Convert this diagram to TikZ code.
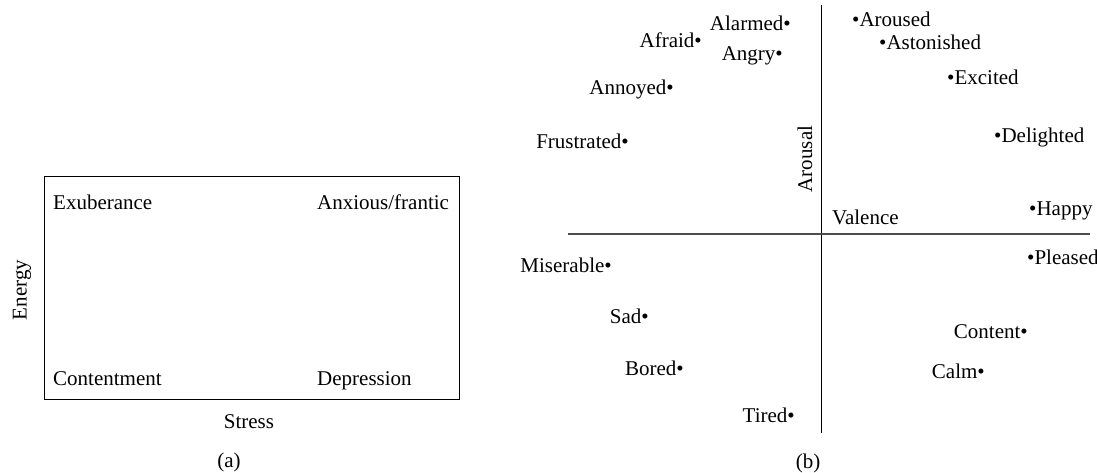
\documentclass[tikz,border=0pt]{standalone}
\usepackage{fontspec}
\setmainfont{Liberation Serif}
\usetikzlibrary{positioning}

\newcommand{\bul}{\textbullet}

\begin{document}
\begin{tikzpicture}[x=1pt, y=-1pt,
    every node/.style={font=\fontsize{21}{25}\selectfont, inner sep=0pt},
    dotleft/.style={anchor=base east},
    dotright/.style={anchor=base west}]
  \useasboundingbox (0,0) rectangle (1097,473);

  % (a) energy / stress
  \node[draw, line width=1pt, minimum width=415pt, minimum height=222pt] (box) at (251.5,288) {};
  \node[anchor=base west] (exub) at (53,209) {Exuberance};
  \node[anchor=base west] (anx) at (317,209) {Anxious/frantic};
  \node[anchor=base west] (contm) at (53,385) {Contentment};
  \node[anchor=base west] (depr) at (317,385) {Depression};
  \node[rotate=90] (energy) at (22,290) {Energy};
  \node[anchor=base] (stress) at (249,428) {Stress};
  \node (capa) at (229,462) {(a)};

  % (b) valence / arousal
  \coordinate (vtop) at (821,5);
  \coordinate (vbot) at (821,433);
  \coordinate (hleft) at (568,234);
  \coordinate (hright) at (1090,234);
  \draw[line width=1pt] (vtop) -- (vbot);
  \draw[line width=1.6pt, black!70] (hleft) -- (hright);
  \node[rotate=90] (arousal) at (805,159) {Arousal};
  \node[anchor=base west] (valence) at (832,224) {Valence};

  \node[dotleft] (alarmed) at (791,31) {Alarmed\bul};
  \node[dotleft] (afraid) at (702,48) {Afraid\bul};
  \node[dotleft] (angry) at (783,61) {Angry\bul};
  \node[dotleft] (annoyed) at (674,95) {Annoyed\bul};
  \node[dotleft] (frustr) at (629,149) {Frustrated\bul};
  \node[dotleft] (miser) at (612,272) {Miserable\bul};
  \node[dotleft] (sad) at (649,323) {Sad\bul};
  \node[dotleft] (bored) at (684,375) {Bored\bul};
  \node[dotleft] (tired) at (795,422) {Tired\bul};

  \node[dotright] (aroused) at (852,27) {\bul Aroused};
  \node[dotright] (aston) at (879,50) {\bul Astonished};
  \node[dotright] (excited) at (947,85) {\bul Excited};
  \node[dotright] (delight) at (994,143) {\bul Delighted};
  \node[dotright] (happy) at (1029,215) {\bul Happy};
  \node[dotright] (pleased) at (1027,264) {\bul Pleased};
  \node[dotleft] (content) at (1028,338) {Content\bul};
  \node[dotleft] (calm) at (985,378) {Calm\bul};

  \node (capb) at (808,463) {(b)};
\end{tikzpicture}
\end{document}
